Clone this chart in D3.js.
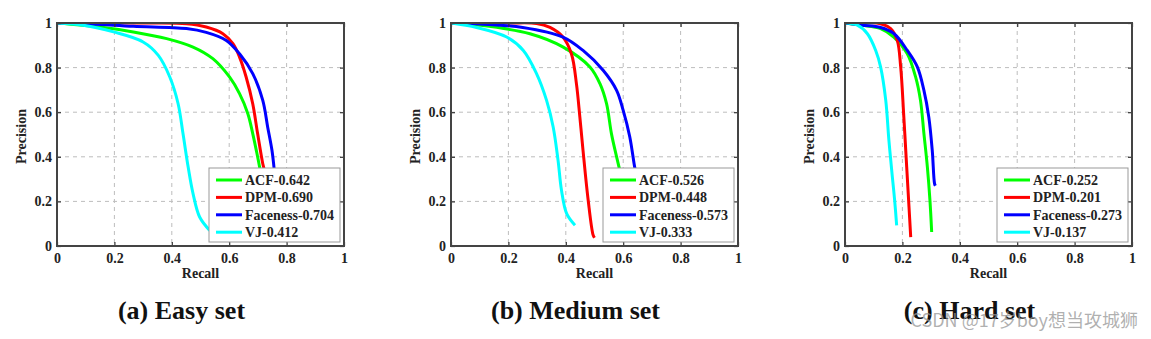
<!DOCTYPE html>
<html>
<head>
<meta charset="utf-8">
<script src="https://cdn.jsdelivr.net/npm/d3@7"></script>
<style>
  html, body { margin: 0; padding: 0; background: #fff; }
  svg { display: block; }
</style>
</head>
<body>
<svg id="chart" width="1151" height="339"></svg>
<script>
// ---------------- DATA ----------------
const tickValues = [0, 0.2, 0.4, 0.6, 0.8, 1];
const tickLabels = ["0", "0.2", "0.4", "0.6", "0.8", "1"];
const methods = ["ACF", "DPM", "Faceness", "VJ"];
const methodColors = ["#00ff00", "#ff0000", "#0000ff", "#00ffff"];
const panelTitles = ["(a) Easy set", "(b) Medium set", "(c) Hard set"];
const easyScores = ["0.642", "0.690", "0.704", "0.412"];
const mediumScores = ["0.526", "0.448", "0.573", "0.333"];
const hardScores = ["0.252", "0.201", "0.273", "0.137"];

// [recall, precision] points
const easyACF = [[0,1],[0.15,0.982],[0.266,0.96],[0.382,0.93],[0.474,0.892],[0.543,0.84],[0.601,0.758],[0.636,0.683],[0.665,0.593],[0.682,0.504],[0.699,0.4],[0.708,0.34]];
const easyDPM = [[0,1],[0.3,1],[0.451,0.997],[0.52,0.982],[0.578,0.952],[0.613,0.907],[0.636,0.847],[0.659,0.758],[0.682,0.638],[0.699,0.504],[0.717,0.369],[0.723,0.34]];
const easyFaceness = [[0,1],[0.12,0.995],[0.266,0.985],[0.451,0.975],[0.52,0.958],[0.59,0.922],[0.636,0.862],[0.682,0.773],[0.717,0.653],[0.734,0.534],[0.749,0.429],[0.757,0.34]];
const easyVJ = [[0,1],[0.092,0.99],[0.197,0.96],[0.3,0.915],[0.353,0.855],[0.393,0.758],[0.422,0.638],[0.439,0.504],[0.457,0.354],[0.474,0.235],[0.497,0.13],[0.532,0.07]];

const mediumACF = [[0,1],[0.1,0.99],[0.275,0.952],[0.391,0.892],[0.484,0.803],[0.519,0.728],[0.542,0.638],[0.559,0.504],[0.577,0.4],[0.588,0.34]];
const mediumDPM = [[0,1],[0.2,1],[0.298,0.998],[0.345,0.98],[0.39,0.937],[0.42,0.86],[0.437,0.728],[0.449,0.578],[0.46,0.429],[0.478,0.205],[0.495,0.05],[0.5,0.037]];
const mediumFaceness = [[0,1],[0.1,0.995],[0.25,0.98],[0.39,0.937],[0.46,0.877],[0.53,0.788],[0.577,0.698],[0.6,0.608],[0.623,0.489],[0.64,0.354],[0.643,0.34]];
const mediumVJ = [[0,1],[0.089,0.98],[0.194,0.937],[0.252,0.877],[0.298,0.773],[0.333,0.653],[0.356,0.534],[0.373,0.384],[0.385,0.25],[0.403,0.145],[0.432,0.093]];

const hardACF = [[0,1],[0.06,0.99],[0.124,0.975],[0.17,0.937],[0.217,0.862],[0.246,0.758],[0.263,0.653],[0.275,0.504],[0.287,0.354],[0.296,0.205],[0.302,0.063]];
const hardDPM = [[0,1],[0.12,0.998],[0.159,0.975],[0.182,0.922],[0.194,0.803],[0.205,0.578],[0.215,0.354],[0.223,0.175],[0.229,0.04]];
const hardFaceness = [[0,1],[0.06,0.99],[0.124,0.98],[0.171,0.952],[0.217,0.877],[0.252,0.803],[0.275,0.698],[0.292,0.578],[0.304,0.429],[0.312,0.28],[0.315,0.27]];
const hardVJ = [[0,1],[0.043,0.99],[0.078,0.952],[0.107,0.877],[0.124,0.803],[0.142,0.653],[0.153,0.474],[0.165,0.309],[0.173,0.205],[0.18,0.093]];

const panels = [
  { title: panelTitles[0], scores: easyScores, series: [easyACF, easyDPM, easyFaceness, easyVJ] },
  { title: panelTitles[1], scores: mediumScores, series: [mediumACF, mediumDPM, mediumFaceness, mediumVJ] },
  { title: panelTitles[2], scores: hardScores, series: [hardACF, hardDPM, hardFaceness, hardVJ] }
];

// ---------------- LAYOUT ----------------
const svg = d3.select("#chart");
const panelLefts = [57, 451, 845];
const plotW = 287, plotH = 223, plotTop = 23;
const serif = "'Liberation Serif', 'Times New Roman', serif";

panels.forEach((p, i) => {
  const g = svg.append("g").attr("transform", `translate(${panelLefts[i]},${plotTop})`);
  const x = d3.scaleLinear().domain([0, 1]).range([0, plotW]);
  const y = d3.scaleLinear().domain([0, 1]).range([plotH, 0]);

  // grid
  const gridVals = tickValues.filter(v => v > 0 && v < 1);
  g.selectAll(".gx").data(gridVals).join("line")
    .attr("x1", d => x(d)).attr("x2", d => x(d)).attr("y1", 0).attr("y2", plotH)
    .attr("stroke", "#bdbdbd").attr("stroke-width", 1).attr("stroke-dasharray", "4,4");
  g.selectAll(".gy").data(gridVals).join("line")
    .attr("y1", d => y(d)).attr("y2", d => y(d)).attr("x1", 0).attr("x2", plotW)
    .attr("stroke", "#bdbdbd").attr("stroke-width", 1).attr("stroke-dasharray", "4,4");

  // clip
  const clipId = "clip" + i;
  g.append("clipPath").attr("id", clipId).append("rect").attr("width", plotW).attr("height", plotH);

  const line = d3.line().x(d => x(d[0])).y(d => y(d[1])).curve(d3.curveCatmullRom.alpha(0.5));
  const order = [0, 1, 3, 2]; // draw order
  g.append("g").attr("clip-path", `url(#${clipId})`)
    .selectAll("path").data([0, 1, 2, 3]).join("path")
    .attr("d", k => line(p.series[k]))
    .attr("fill", "none")
    .attr("stroke", k => methodColors[k])
    .attr("stroke-width", 3)
    .attr("stroke-linejoin", "round")
    .attr("stroke-linecap", "butt");

  // axes
  const axB = d3.axisBottom(x).tickValues(tickValues).tickFormat((d, j) => tickLabels[j]).tickSizeInner(-4).tickSizeOuter(0).tickPadding(7);
  const axL = d3.axisLeft(y).tickValues(tickValues).tickFormat((d, j) => tickLabels[j]).tickSizeInner(-4).tickSizeOuter(0).tickPadding(5);
  const axT = d3.axisTop(x).tickValues(tickValues).tickFormat("").tickSizeInner(-4).tickSizeOuter(0);
  const axR = d3.axisRight(y).tickValues(tickValues).tickFormat("").tickSizeInner(-4).tickSizeOuter(0);

  const styleAxis = sel => {
    sel.select(".domain").remove();
    sel.selectAll(".tick line").attr("stroke", "#333").attr("stroke-width", 1.2);
    sel.selectAll("text").attr("font-family", serif).attr("font-weight", "bold").attr("font-size", 14).attr("fill", "#222");
  };
  g.append("g").attr("transform", `translate(0,${plotH})`).call(axB).call(styleAxis);
  g.append("g").call(axL).call(styleAxis);
  g.append("g").call(axT).call(styleAxis);
  g.append("g").attr("transform", `translate(${plotW},0)`).call(axR).call(styleAxis);

  // frame
  g.append("rect").attr("width", plotW).attr("height", plotH)
    .attr("fill", "none").attr("stroke", "#444").attr("stroke-width", 2);

  // axis labels
  g.append("text").attr("x", plotW / 2).attr("y", plotH + 32)
    .attr("text-anchor", "middle").attr("font-family", serif).attr("font-weight", "bold")
    .attr("font-size", 14).attr("fill", "#222").text("Recall");
  g.append("text").attr("transform", `translate(-31,${plotH / 2 + 2}) rotate(-90)`)
    .attr("text-anchor", "middle").attr("font-family", serif).attr("font-weight", "bold")
    .attr("font-size", 14).attr("fill", "#222").text("Precision");

  // legend
  const lw = 131, lh = 74;
  const lg = g.append("g").attr("transform", `translate(${plotW - lw - 4},${plotH - lh - 4})`);
  lg.append("rect").attr("width", lw).attr("height", lh).attr("fill", "#fff")
    .attr("stroke", "#999").attr("stroke-width", 1);
  methods.forEach((m, k) => {
    const yy = 12 + k * 17.4;
    lg.append("line").attr("x1", 7).attr("x2", 33).attr("y1", yy).attr("y2", yy)
      .attr("stroke", methodColors[k]).attr("stroke-width", 3);
    lg.append("text").attr("x", 36).attr("y", yy + 5)
      .attr("font-family", serif).attr("font-weight", "bold").attr("font-size", 14)
      .attr("fill", "#222").text(m + "-" + p.scores[k]);
  });

  // caption
  svg.append("text").attr("x", panelLefts[i] + plotW / 2 - 19 + (i === 2 ? 0 : 0)).attr("y", 319)
    .attr("text-anchor", "middle").attr("font-family", serif).attr("font-weight", "bold")
    .attr("font-size", 26).attr("fill", "#111").text(p.title);
});

// watermark
svg.append("text").attr("x", 1138).attr("y", 327).attr("text-anchor", "end")
  .attr("font-family", "'Noto Sans CJK SC', 'Noto Sans', sans-serif")
  .attr("font-size", 18).attr("fill", "rgba(150,150,150,0.75)")
  .text("CSDN @17岁boy想当攻城狮");
</script>
</body>
</html>
